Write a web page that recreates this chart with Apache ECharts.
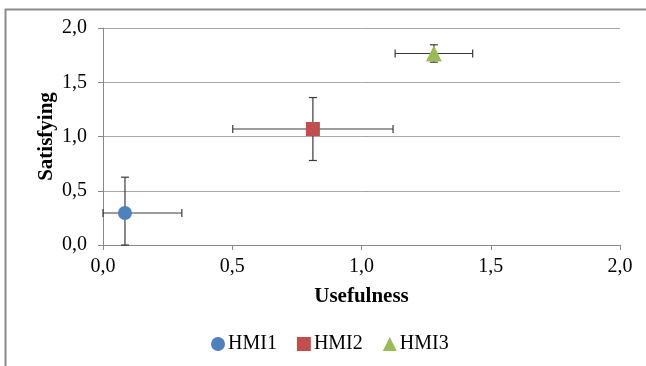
<!DOCTYPE html>
<html>
<head>
<meta charset="utf-8">
<script src="https://cdn.jsdelivr.net/npm/echarts@6/dist/echarts.min.js"></script>
<style>
html,body{margin:0;padding:0;background:#fff;}
#chart{width:646px;height:366px;}
</style>
</head>
<body>
<div id="chart"></div>
<script>
const seriesNames = ['HMI1', 'HMI2', 'HMI3'];
const usefulness = [0.085, 0.812, 1.28];
const satisfying = [0.295, 1.069, 1.765];
const usefulnessErr = [0.22, 0.31, 0.15];
const satisfyingErr = [0.33, 0.29, 0.08];
const colors = ['#4F81BD', '#C0504D', '#9BBB59'];
const symbols = ['circle', 'rect', 'triangle'];
const xTitle = 'Usefulness';
const yTitle = 'Satisfying';
const axisMin = 0, axisMax = 2, axisStep = 0.5;

const fmt = v => v.toFixed(1).replace('.', ',');
const serif = 'Liberation Serif';

const chart = echarts.init(document.getElementById('chart'));

const errData = usefulness.map((x, i) => [x, satisfying[i], usefulnessErr[i], satisfyingErr[i]]);

function renderErr(params, api) {
  const x = api.value(0), y = api.value(1), ex = api.value(2), ey = api.value(3);
  const clampV = v => Math.max(axisMin, Math.min(axisMax, v));
  const c = api.coord([x, y]);
  const l = api.coord([clampV(x - ex), y]);
  const r = api.coord([clampV(x + ex), y]);
  const t = api.coord([x, clampV(y + ey)]);
  const b = api.coord([x, clampV(y - ey)]);
  const cap = 4;
  const st = {stroke: '#3a3a3a', lineWidth: 1.2};
  const line = (x1, y1, x2, y2) => ({type: 'line', shape: {x1, y1, x2, y2}, style: st});
  return {
    type: 'group',
    children: [
      line(l[0], c[1], r[0], c[1]),
      line(l[0], c[1] - cap, l[0], c[1] + cap),
      line(r[0], c[1] - cap, r[0], c[1] + cap),
      line(c[0], t[1], c[0], b[1]),
      line(c[0] - cap, t[1], c[0] + cap, t[1]),
      line(c[0] - cap, b[1], c[0] + cap, b[1])
    ]
  };
}

const series = [{
  type: 'custom',
  name: 'err',
  renderItem: renderErr,
  data: errData,
  z: 2,
  silent: true
}];
seriesNames.forEach((n, i) => {
  series.push({
    type: 'scatter',
    name: n,
    symbol: symbols[i],
    symbolSize: i === 2 ? 16 : 14,
    itemStyle: {color: colors[i], opacity: 1},
    data: [[usefulness[i], satisfying[i]]],
    z: 5
  });
});

chart.setOption({
  animation: false,
  backgroundColor: '#fff',
  grid: {left: 103, right: 26, top: 28, bottom: 121},
  graphic: [
    {type: 'line', shape: {x1: 5.5, y1: 9, x2: 5.5, y2: 366}, style: {stroke: '#8a8a8a', lineWidth: 2}, z: 10},
    {type: 'line', shape: {x1: 5, y1: 9.5, x2: 646, y2: 9.5}, style: {stroke: '#8a8a8a', lineWidth: 2}, z: 10}
  ],
  legend: {
    data: seriesNames.map((n, i) => ({name: n, icon: symbols[i]})),
    bottom: 12,
    left: 211,
    padding: 0,
    itemWidth: 14,
    itemHeight: 14,
    itemGap: 20,
    textStyle: {fontFamily: serif, fontSize: 20, color: '#000', padding: [0, 0, 0, -2]}
  },
  xAxis: {
    type: 'value',
    min: axisMin, max: axisMax, interval: axisStep,
    name: xTitle,
    nameLocation: 'middle',
    nameGap: 41,
    nameMoveOverlap: false,
    nameTextStyle: {fontFamily: serif, fontSize: 21, fontWeight: 'bold', color: '#000'},
    axisLine: {show: true, lineStyle: {color: '#888', width: 1}},
    axisTick: {show: true, length: 5, lineStyle: {color: '#888'}},
    axisLabel: {formatter: fmt, fontFamily: serif, fontSize: 20, color: '#000', margin: 12},
    splitLine: {show: false}
  },
  yAxis: {
    type: 'value',
    min: axisMin, max: axisMax, interval: axisStep,
    name: yTitle,
    nameLocation: 'middle',
    nameGap: 46,
    nameMoveOverlap: false,
    nameRotate: 90,
    nameTextStyle: {fontFamily: serif, fontSize: 21, fontWeight: 'bold', color: '#000'},
    axisLine: {show: true, lineStyle: {color: '#888', width: 1}},
    axisTick: {show: true, length: 5, lineStyle: {color: '#888'}},
    axisLabel: {formatter: fmt, fontFamily: serif, fontSize: 20, color: '#000', margin: 16},
    splitLine: {show: true, lineStyle: {color: '#a6a6a6', width: 1}}
  },
  series: series
});
</script>
</body>
</html>
